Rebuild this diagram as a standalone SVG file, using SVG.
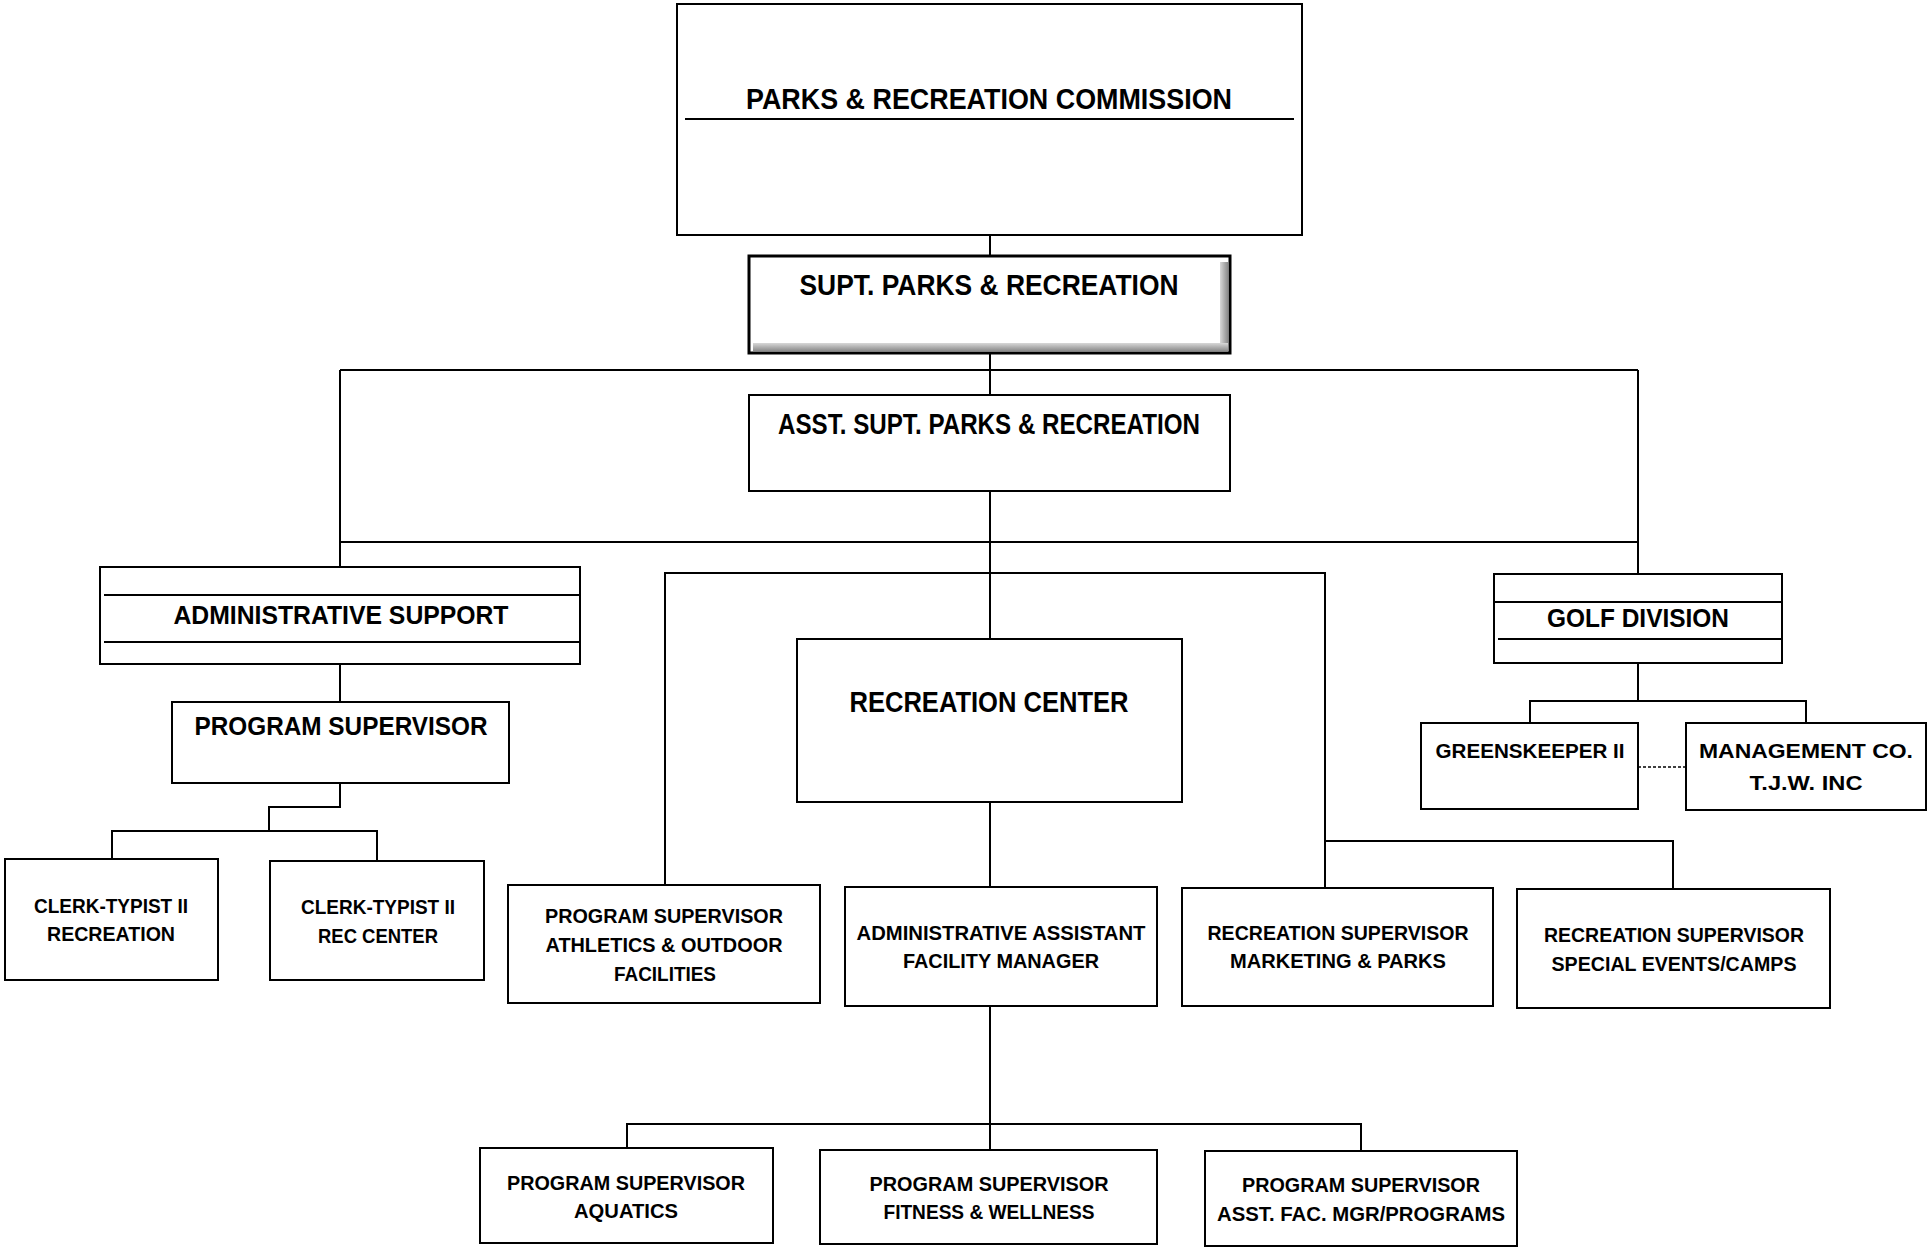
<svg xmlns="http://www.w3.org/2000/svg" width="1928" height="1248" viewBox="0 0 1928 1248">
<defs>
<style>
.box{fill:#fff;stroke:#000;stroke-width:2}
.ln{stroke:#000;stroke-width:2;fill:none}
.dash{stroke:#000;stroke-width:1.5;fill:none;stroke-dasharray:3 2}
text{font-family:"Liberation Sans",Arial,sans-serif;font-weight:bold;text-anchor:middle;fill:#000}
.t1{font-size:29px}
.t2{font-size:25px}
.t3{font-size:21px}
</style>
<linearGradient id="shR" x1="0" y1="0" x2="1" y2="0">
<stop offset="0" stop-color="#d8d8d8"/><stop offset="1" stop-color="#8a8a8a"/>
</linearGradient>
<linearGradient id="shB" x1="0" y1="0" x2="0" y2="1">
<stop offset="0" stop-color="#d8d8d8"/><stop offset="1" stop-color="#8a8a8a"/>
</linearGradient>
</defs>
<rect width="1928" height="1248" fill="#fff"/>

<g id="connectors">
<path class="ln" d="M990 235V256"/>
<path class="ln" d="M990 353V395"/>
<path class="ln" d="M340 370H1638"/>
<path class="ln" d="M340 370V567"/>
<path class="ln" d="M1638 370V574"/>
<path class="ln" d="M340 542H1638"/>
<path class="ln" d="M990 491V639"/>
<path class="ln" d="M665 885V573H1325V888"/>
<path class="ln" d="M1325 841H1673V889"/>
<path class="ln" d="M990 802V887"/>
<path class="ln" d="M990 1006V1150"/>
<path class="ln" d="M627 1148V1124H1361V1151"/>
<path class="ln" d="M340 664V702"/>
<path class="ln" d="M340 783V807H269V831"/>
<path class="ln" d="M112 859V831H377V861"/>
<path class="ln" d="M1638 663V701"/>
<path class="ln" d="M1530 723V701H1806V723"/>
<path class="dash" d="M1638 767H1686"/>
</g>

<g id="commission">
<rect class="box" x="677" y="4" width="625" height="231"/>
<path class="ln" d="M685 119H1294"/>
<text class="t1" x="989" y="109" textLength="486" lengthAdjust="spacingAndGlyphs">PARKS &amp; RECREATION COMMISSION</text>
</g>

<g id="supt">
<rect x="749" y="256" width="481" height="97" fill="#fff"/>
<rect x="1220" y="262" width="8" height="89" fill="url(#shR)"/>
<rect x="753" y="343" width="475" height="8" fill="url(#shB)"/>
<rect x="749" y="256" width="481" height="97" fill="none" stroke="#000" stroke-width="3"/>
<text class="t1" x="989" y="295" textLength="379" lengthAdjust="spacingAndGlyphs">SUPT. PARKS &amp; RECREATION</text>
</g>

<g id="asst">
<rect class="box" x="749" y="395" width="481" height="96"/>
<text class="t1" x="989" y="434" textLength="422" lengthAdjust="spacingAndGlyphs">ASST. SUPT. PARKS &amp; RECREATION</text>
</g>

<g id="admin-support">
<rect class="box" x="100" y="567" width="480" height="97"/>
<path class="ln" d="M104 595H580M104 642H580"/>
<text class="t2" x="341" y="624" textLength="335" lengthAdjust="spacingAndGlyphs">ADMINISTRATIVE SUPPORT</text>
</g>

<g id="program-supervisor">
<rect class="box" x="172" y="702" width="337" height="81"/>
<text class="t2" x="341" y="735" textLength="293" lengthAdjust="spacingAndGlyphs">PROGRAM SUPERVISOR</text>
</g>

<g id="clerk-recreation">
<rect class="box" x="5" y="859" width="213" height="121"/>
<text class="t3" x="111" y="913" textLength="154" lengthAdjust="spacingAndGlyphs">CLERK-TYPIST II</text>
<text class="t3" x="111" y="941" textLength="128" lengthAdjust="spacingAndGlyphs">RECREATION</text>
</g>

<g id="clerk-rec-center">
<rect class="box" x="270" y="861" width="214" height="119"/>
<text class="t3" x="378" y="914" textLength="154" lengthAdjust="spacingAndGlyphs">CLERK-TYPIST II</text>
<text class="t3" x="378" y="943" textLength="120" lengthAdjust="spacingAndGlyphs">REC CENTER</text>
</g>

<g id="recreation-center">
<rect class="box" x="797" y="639" width="385" height="163"/>
<text class="t1" x="989" y="712" textLength="279" lengthAdjust="spacingAndGlyphs">RECREATION CENTER</text>
</g>

<g id="ps-athletics">
<rect class="box" x="508" y="885" width="312" height="118"/>
<text class="t3" x="664" y="923" textLength="238" lengthAdjust="spacingAndGlyphs">PROGRAM SUPERVISOR</text>
<text class="t3" x="664" y="952" textLength="237" lengthAdjust="spacingAndGlyphs">ATHLETICS &amp; OUTDOOR</text>
<text class="t3" x="665" y="981" textLength="102" lengthAdjust="spacingAndGlyphs">FACILITIES</text>
</g>

<g id="admin-assistant">
<rect class="box" x="845" y="887" width="312" height="119"/>
<text class="t3" x="1001" y="940" textLength="289" lengthAdjust="spacingAndGlyphs">ADMINISTRATIVE ASSISTANT</text>
<text class="t3" x="1001" y="968" textLength="196" lengthAdjust="spacingAndGlyphs">FACILITY MANAGER</text>
</g>

<g id="rs-marketing">
<rect class="box" x="1182" y="888" width="311" height="118"/>
<text class="t3" x="1338" y="940" textLength="261" lengthAdjust="spacingAndGlyphs">RECREATION SUPERVISOR</text>
<text class="t3" x="1338" y="968" textLength="216" lengthAdjust="spacingAndGlyphs">MARKETING &amp; PARKS</text>
</g>

<g id="rs-special">
<rect class="box" x="1517" y="889" width="313" height="119"/>
<text class="t3" x="1674" y="942" textLength="260" lengthAdjust="spacingAndGlyphs">RECREATION SUPERVISOR</text>
<text class="t3" x="1674" y="971" textLength="245" lengthAdjust="spacingAndGlyphs">SPECIAL EVENTS/CAMPS</text>
</g>

<g id="golf-division">
<rect class="box" x="1494" y="574" width="288" height="89"/>
<path class="ln" d="M1494 602H1782M1498 639H1782"/>
<text class="t2" x="1638" y="627" textLength="182" lengthAdjust="spacingAndGlyphs">GOLF DIVISION</text>
</g>

<g id="greenskeeper">
<rect class="box" x="1421" y="723" width="217" height="86"/>
<text class="t3" x="1530" y="758" textLength="189" lengthAdjust="spacingAndGlyphs">GREENSKEEPER II</text>
</g>

<g id="management-co">
<rect class="box" x="1686" y="723" width="240" height="87"/>
<text class="t3" x="1806" y="758" textLength="214" lengthAdjust="spacingAndGlyphs">MANAGEMENT CO.</text>
<text class="t3" x="1806" y="790" textLength="113" lengthAdjust="spacingAndGlyphs">T.J.W. INC</text>
</g>

<g id="ps-aquatics">
<rect class="box" x="480" y="1148" width="293" height="95"/>
<text class="t3" x="626" y="1190" textLength="238" lengthAdjust="spacingAndGlyphs">PROGRAM SUPERVISOR</text>
<text class="t3" x="626" y="1218" textLength="104" lengthAdjust="spacingAndGlyphs">AQUATICS</text>
</g>

<g id="ps-fitness">
<rect class="box" x="820" y="1150" width="337" height="94"/>
<text class="t3" x="989" y="1191" textLength="239" lengthAdjust="spacingAndGlyphs">PROGRAM SUPERVISOR</text>
<text class="t3" x="989" y="1219" textLength="211" lengthAdjust="spacingAndGlyphs">FITNESS &amp; WELLNESS</text>
</g>

<g id="ps-asst-fac">
<rect class="box" x="1205" y="1151" width="312" height="95"/>
<text class="t3" x="1361" y="1192" textLength="238" lengthAdjust="spacingAndGlyphs">PROGRAM SUPERVISOR</text>
<text class="t3" x="1361" y="1221" textLength="288" lengthAdjust="spacingAndGlyphs">ASST. FAC. MGR/PROGRAMS</text>
</g>
</svg>
